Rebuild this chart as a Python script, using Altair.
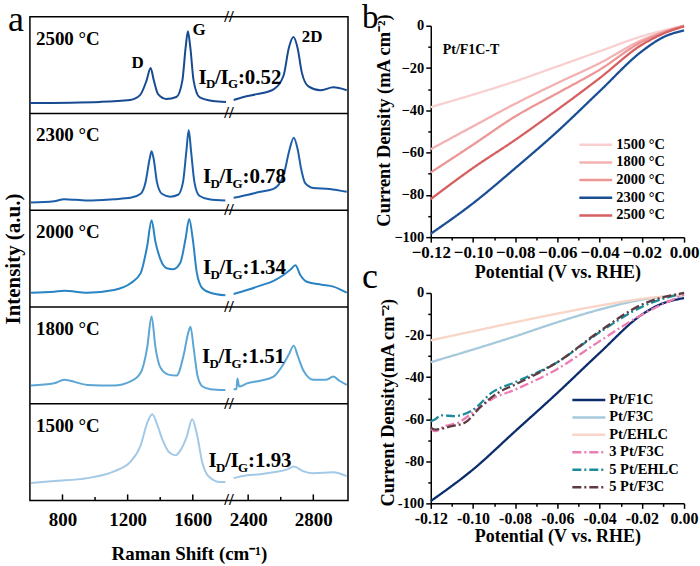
import altair as alt
import pandas as pd

FONT = "Liberation Serif"

# ---------------- Panel a: Raman spectra ----------------
TEMPS_A = ["2500 °C", "2300 °C", "2000 °C", "1800 °C", "1500 °C"]
COLORS_A = ["#174A91", "#1D5EA8", "#2A83C3", "#5CA6D6", "#A3C9E6"]
RATIOS_A = [":0.52", ":0.78", ":1.34", ":1.51", ":1.93"]
PEAKS_A = ["D", "G", "2D"]

# Raman shift (cm-1) and intensity (fraction of its strip), left and right of the axis break
X_2500_L = [600, 1032, 1215, 1276, 1316, 1341, 1361, 1387, 1438, 1499, 1536, 1556, 1570, 1585, 1605, 1641, 1723, 1804]
Y_2500_L = [0.108, 0.12, 0.14, 0.19, 0.34, 0.47, 0.34, 0.20, 0.15, 0.17, 0.34, 0.68, 0.85, 0.68, 0.34, 0.17, 0.13, 0.12]
X_2500_R = [2311, 2372, 2454, 2556, 2617, 2650, 2678, 2703, 2730, 2770, 2842, 2923, 3005]
Y_2500_R = [0.14, 0.17, 0.20, 0.25, 0.39, 0.68, 0.79, 0.68, 0.42, 0.28, 0.24, 0.27, 0.24]

X_2300_L = [606, 749, 810, 953, 1116, 1218, 1280, 1310, 1335, 1347, 1360, 1380, 1410, 1463, 1510, 1540, 1560, 1575, 1590, 1610, 1640, 1700, 1800]
Y_2300_L = [0.079, 0.093, 0.114, 0.10, 0.114, 0.128, 0.17, 0.29, 0.53, 0.61, 0.53, 0.29, 0.17, 0.14, 0.16, 0.29, 0.60, 0.83, 0.60, 0.29, 0.15, 0.114, 0.10]
X_2300_R = [2311, 2400, 2474, 2556, 2617, 2650, 2680, 2705, 2725, 2750, 2800, 2900, 3005]
Y_2300_R = [0.128, 0.16, 0.19, 0.22, 0.36, 0.60, 0.75, 0.62, 0.43, 0.28, 0.23, 0.22, 0.19]

X_2000_L = [606, 749, 810, 953, 1116, 1218, 1280, 1320, 1347, 1371, 1402, 1440, 1480, 1524, 1555, 1578, 1600, 1625, 1660, 1708, 1800]
Y_2000_L = [0.147, 0.158, 0.168, 0.147, 0.175, 0.245, 0.35, 0.63, 0.895, 0.67, 0.49, 0.40, 0.39, 0.46, 0.70, 0.91, 0.70, 0.35, 0.19, 0.147, 0.12]
X_2000_R = [2311, 2393, 2474, 2556, 2617, 2660, 2690, 2720, 2760, 2850, 2923, 3005]
Y_2000_R = [0.133, 0.175, 0.22, 0.27, 0.33, 0.386, 0.43, 0.33, 0.26, 0.23, 0.21, 0.147]

X_1800_L = [606, 749, 810, 953, 1116, 1218, 1280, 1320, 1347, 1371, 1402, 1450, 1500, 1545, 1570, 1586, 1605, 1630, 1660, 1708, 1800]
Y_1800_L = [0.187, 0.21, 0.247, 0.194, 0.187, 0.23, 0.32, 0.58, 0.90, 0.58, 0.37, 0.30, 0.29, 0.51, 0.72, 0.795, 0.58, 0.28, 0.177, 0.15, 0.14]
X_1800_R = [2311, 2328, 2334, 2345, 2393, 2474, 2556, 2617, 2650, 2680, 2705, 2740, 2801, 2880, 2923, 2960, 3005]
Y_1800_R = [0.15, 0.15, 0.26, 0.177, 0.21, 0.237, 0.28, 0.41, 0.51, 0.60, 0.49, 0.34, 0.247, 0.247, 0.28, 0.237, 0.194]

X_1500_L = [606, 749, 953, 1116, 1218, 1280, 1320, 1351, 1382, 1412, 1453, 1494, 1524, 1565, 1596, 1627, 1657, 1698, 1769, 1800]
Y_1500_L = [0.18, 0.20, 0.23, 0.30, 0.40, 0.57, 0.80, 0.89, 0.78, 0.635, 0.50, 0.466, 0.517, 0.67, 0.84, 0.67, 0.40, 0.247, 0.19, 0.19]
X_1500_R = [2311, 2393, 2474, 2556, 2640, 2680, 2740, 2801, 2923, 3005]
Y_1500_R = [0.23, 0.26, 0.27, 0.29, 0.32, 0.35, 0.30, 0.28, 0.29, 0.25]

SPECTRA = [
    (X_2500_L, Y_2500_L, X_2500_R, Y_2500_R),
    (X_2300_L, Y_2300_L, X_2300_R, Y_2300_R),
    (X_2000_L, Y_2000_L, X_2000_R, Y_2000_R),
    (X_1800_L, Y_1800_L, X_1800_R, Y_1800_R),
    (X_1500_L, Y_1500_L, X_1500_R, Y_1500_R),
]

# ---------------- Panel b: LSV, Pt/F1C-T ----------------
TEMPS_B = ["1500 °C", "1800 °C", "2000 °C", "2300 °C", "2500 °C"]
COLORS_B = ["#F8D0D0", "#F3B2B2", "#EC9696", "#1B4F93", "#D65F61"]
P_B = [-0.12, -0.10, -0.08, -0.06, -0.04, -0.02, -0.01, 0.0]
J_B_1500 = [-38.5, -32.6, -26.3, -19.2, -12.1, -5.0, -2.3, 0.0]
J_B_1800 = [-58.4, -47.6, -36.9, -27.1, -17.7, -6.8, -3.0, 0.0]
J_B_2000 = [-69.4, -56.3, -42.9, -31.9, -20.8, -7.6, -3.2, 0.0]
J_B_2300 = [-98.4, -84.0, -67.4, -50.0, -31.0, -12.1, -5.5, -2.2]
J_B_2500 = [-82.0, -67.3, -54.0, -39.7, -24.8, -9.0, -3.8, -0.3]
J_B = [J_B_1500, J_B_1800, J_B_2000, J_B_2300, J_B_2500]

# ---------------- Panel c: LSV, samples ----------------
SAMPLES_C = ["Pt/F1C", "Pt/F3C", "Pt/EHLC", "3 Pt/F3C", "5 Pt/EHLC", "5 Pt/F3C"]
COLORS_C = ["#0B2D6B", "#A6CADB", "#F8D5C6", "#EC7CB3", "#1C8B9C", "#5E3B41"]
P_C_F1C = [-0.12, -0.10, -0.08, -0.06, -0.04, -0.02, -0.0126, 0.0]
J_C_F1C = [-98.9, -83.9, -65.7, -47.5, -28.5, -10.3, -6.0, -2.4]
P_C_F3C = [-0.12, -0.10, -0.08, -0.06, -0.04, -0.02, 0.0]
J_C_F3C = [-32.9, -26.9, -20.6, -13.9, -7.9, -3.2, -1.1]
P_C_EHLC = [-0.12, -0.10, -0.08, -0.06, -0.04, -0.02, 0.0]
J_C_EHLC = [-22.5, -18.2, -13.9, -9.8, -6.0, -2.8, -0.8]
P_C_3F3C = [-0.12, -0.118, -0.1134, -0.1071, -0.0992, -0.0913, -0.08, -0.06, -0.04, -0.02, 0.0]
J_C_3F3C = [-64.5, -65.7, -63.3, -61.7, -56.2, -50.6, -45.9, -36.1, -22.9, -10.3, -0.8]
P_C_5EHLC = [-0.12, -0.118, -0.115, -0.1087, -0.0992, -0.0913, -0.08, -0.06, -0.04, -0.02, 0.0]
J_C_5EHLC = [-61.0, -60.1, -58.2, -58.5, -55.0, -47.5, -42.4, -32.9, -18.7, -6.6, 0.0]
P_C_5F3C = [-0.12, -0.118, -0.1102, -0.1039, -0.0961, -0.0882, -0.08, -0.06, -0.04, -0.02, 0.0]
J_C_5F3C = [-64.0, -64.9, -63.3, -61.7, -53.8, -47.5, -43.5, -32.9, -18.2, -5.5, 0.0]
SERIES_C = [(P_C_F1C, J_C_F1C), (P_C_F3C, J_C_F3C), (P_C_EHLC, J_C_EHLC),
            (P_C_3F3C, J_C_3F3C), (P_C_5EHLC, J_C_5EHLC), (P_C_5F3C, J_C_5F3C)]

# ---------------- layout constants ----------------
AW, AH = 319, 485
BW, BH = 254, 212
CW, CH = 254, 211
XT_SHIFT = 460          # width of the axis break in cm-1
BREAK_X = 1822
LABEL_XT, LABEL_YF = 637, 0.711
RATIO_XT = [1635, 1663, 1663, 1657, 1697]
RATIO_YF = [0.31, 0.28, 0.34, 0.42, 0.35]
PEAK_XT = [1261, 1638, 2333]
PEAK_YF = [0.467, 0.811, 0.742]
MINUS = "\u2212"


def to_axis(v):
    return v if v < 2000 else v - XT_SHIFT


n = len(TEMPS_A)
rows = []
for k, (temp, (xl, yl, xr, yr)) in enumerate(zip(TEMPS_A, SPECTRA)):
    base = n - 1 - k
    for seg, xs, ys in (("L", xl, yl), ("R", xr, yr)):
        for xv, yv in zip(xs, ys):
            rows.append({"temp": temp, "seg": temp + seg, "xa": to_axis(xv), "ya": base + yv})
df_a = pd.DataFrame(rows)
one = pd.DataFrame({"v": [0]})

x_a = alt.X("xa:Q", scale=alt.Scale(domain=[600, 2553], nice=False, zero=False),
            axis=alt.Axis(values=[800, 1200, 1600, 1940, 2340],
                          labelExpr="datum.value > 1800 ? datum.value + 460 : datum.value",
                          ticks=False, tickSize=0, domain=False, labelFontSize=19, labelPadding=10,
                          labelFlush=False, title="Raman Shift (cm⁻¹)", titleFontSize=19, titlePadding=15))
y_a = alt.Y("ya:Q", scale=alt.Scale(domain=[0, n], nice=False, zero=False),
            axis=alt.Axis(labels=False, ticks=False, tickSize=0, domain=False,
                          title="Intensity (a.u.)", titleFontSize=21, titlePadding=6))

lines_a = alt.Chart(df_a).mark_line(strokeWidth=2, interpolate="monotone").encode(
    x=x_a, y=y_a,
    color=alt.Color("temp:N", scale=alt.Scale(domain=TEMPS_A, range=COLORS_A), legend=None),
    detail="seg:N")
sep_a = alt.Chart(pd.DataFrame({"ya": list(range(1, n))})).mark_rule(color="black", strokeWidth=1.5).encode(y=y_a)
brk_a = alt.Chart(pd.DataFrame({"xa": [BREAK_X] * (n + 1), "ya": list(range(n + 1))})).mark_text(
    text="//", fontSize=17, fontWeight="bold", font=FONT, color="black").encode(x=x_a, y=y_a)
tk_major = alt.Chart(pd.DataFrame({"xa": [800, 1200, 1600, 1940, 2340]})).mark_rule(
    color="black", strokeWidth=1.5).encode(x=x_a, y=alt.value(AH), y2=alt.value(AH - 6))
tk_minor = alt.Chart(pd.DataFrame({"xa": [1000, 1400, 2140]})).mark_rule(
    color="black", strokeWidth=1.5).encode(x=x_a, y=alt.value(AH), y2=alt.value(AH - 3.5))
lab_a = alt.Chart(pd.DataFrame({"temp": TEMPS_A, "xa": [LABEL_XT] * n,
                                "ya": [n - 1 - k + LABEL_YF for k in range(n)]})).mark_text(
    align="left", baseline="alphabetic", font=FONT, fontSize=19, fontWeight="bold", color="black"
).encode(x=x_a, y=y_a, text="temp:N")

df_r = pd.DataFrame({"xa": RATIO_XT, "ya": [n - 1 - k + f for k, f in enumerate(RATIO_YF)], "val": RATIOS_A})


def piece(txt, dx, size, dy=0):
    kw = dict(align="left", baseline="alphabetic", font=FONT, fontSize=size, fontWeight="bold",
              color="black", dx=dx, dy=dy)
    if txt is None:
        return alt.Chart(df_r).mark_text(**kw).encode(x=x_a, y=y_a, text="val:N")
    return alt.Chart(df_r).mark_text(text=txt, **kw).encode(x=x_a, y=y_a)


ratio_layers = [piece("I", 0, 21), piece("D", 7.5, 13, 5), piece("/", 16.5, 21),
                piece("I", 22, 21), piece("G", 29.5, 13, 5), piece(None, 39.5, 21)]

pk_a = alt.Chart(pd.DataFrame({"t": PEAKS_A, "xa": PEAK_XT, "ya": [n - 1 + f for f in PEAK_YF]})).mark_text(
    align="center", baseline="alphabetic", font=FONT, fontSize=17, fontWeight="bold", color="black"
).encode(x=x_a, y=y_a, text="t:N")
tag_a = alt.Chart(one).mark_text(text="a", align="left", baseline="alphabetic", font=FONT,
                                 fontSize=36, color="black").encode(x=alt.value(-22), y=alt.value(13.8))
anc_a1 = alt.Chart(one).mark_rect(opacity=0).encode(x=alt.value(-29), x2=alt.value(-28),
                                                    y=alt.value(-15), y2=alt.value(-14))
anc_a2 = alt.Chart(one).mark_rect(opacity=0).encode(x=alt.value(0), x2=alt.value(1),
                                                    y=alt.value(AH + 65), y2=alt.value(AH + 66))

panel_a = alt.layer(lines_a, sep_a, brk_a, tk_major, tk_minor, lab_a, *ratio_layers, pk_a, tag_a,
                    anc_a1, anc_a2).properties(
    width=AW, height=AH, view=alt.ViewBackground(stroke="black", strokeWidth=1.5))


# ---------------- helpers for b / c ----------------
def lsv_panel(df, field, domain, colors, dashes, width, height, ytitle, title_x, title_y, tag, tag_y,
              hyphen, leg_x, leg_range, xlab_size, ylab_size, xtitle_pad, note=None, extra=None):
    xscale = alt.Scale(domain=[-0.12, 0], nice=False, zero=False)
    yscale = alt.Scale(domain=[-100, 0], nice=False, zero=False)
    if hyphen:
        xkw = dict(labelExpr="replace(format(datum.value, '.2f'), '" + MINUS + "', '-')")
        ykw = dict(labelExpr="replace(format(datum.value, 'd'), '" + MINUS + "', '-')")
    else:
        xkw = dict(format=".2f")
        ykw = dict(format="d")
    x_main = alt.X("p:Q", scale=xscale, axis=alt.Axis(
        values=[-0.12, -0.10, -0.08, -0.06, -0.04, -0.02, 0.0], tickSize=5, labelFontSize=xlab_size,
        labelPadding=2, labelFlush=False, title="Potential (V vs. RHE)", titleFontSize=18,
        titlePadding=xtitle_pad, orient="bottom", **xkw))
    y_main = alt.Y("j:Q", scale=yscale, axis=alt.Axis(
        values=[0, -20, -40, -60, -80, -100], tickSize=5, labelFontSize=ylab_size, labelPadding=2,
        labelFlush=False, title=ytitle, titleFontSize=18.5, titleX=title_x, titleY=title_y,
        orient="left", **ykw))
    color = alt.Color(field + ":N", scale=alt.Scale(domain=domain, range=colors), legend=None)
    dash = alt.StrokeDash(field + ":N", scale=alt.Scale(domain=domain, range=dashes), legend=None)
    lines = alt.Chart(df).mark_line(strokeWidth=2.3, interpolate="monotone").encode(
        x=x_main, y=y_main, color=color, strokeDash=dash, detail=field + ":N")
    minor = alt.Chart(pd.DataFrame({"p": [-0.06], "j": [-50]})).mark_point(opacity=0).encode(
        x=alt.X("p:Q", scale=xscale, axis=alt.Axis(
            values=[-0.11, -0.09, -0.07, -0.05, -0.03, -0.01], labels=False, tickSize=3,
            domain=False, title="", orient="bottom")),
        y=alt.Y("j:Q", scale=yscale, axis=alt.Axis(
            values=[-10, -30, -50, -70, -90], labels=False, tickSize=3, domain=False,
            title="", orient="left")))
    leg_df = pd.DataFrame({field: domain})
    leg_y = alt.Y(field + ":N", sort=domain,
                  scale=alt.Scale(type="point", domain=domain, range=leg_range, padding=0), axis=None)
    leg_rule = alt.Chart(leg_df).mark_rule(strokeWidth=2.5).encode(
        x=alt.value(leg_x), x2=alt.value(leg_x + 33), y=leg_y, color=color, strokeDash=dash)
    leg_text = alt.Chart(leg_df).mark_text(align="left", baseline="middle", font=FONT, fontSize=14.5,
                                           fontWeight="bold", color="black").encode(
        x=alt.value(leg_x + 37), y=leg_y, text=field + ":N")
    tag_m = alt.Chart(one).mark_text(text=tag, align="left", baseline="alphabetic", font=FONT,
                                     fontSize=36 if tag == "c" else 33, color="black").encode(
        x=alt.value(-69), y=alt.value(tag_y))
    layers = [lines, minor, leg_rule, leg_text, tag_m]
    if note is not None:
        layers.append(alt.Chart(one).mark_text(text=note, align="left", baseline="alphabetic", font=FONT,
                                               fontSize=14, fontWeight="bold", color="black").encode(
            x=alt.value(12), y=alt.value(28.3)))
    if extra is not None:
        layers.append(extra)
    return alt.layer(*layers).resolve_scale(y="independent").resolve_axis(
        x="independent", y="independent").properties(width=width, height=height)


df_b = pd.DataFrame([{"temp": t, "p": p, "j": j} for t, js in zip(TEMPS_B, J_B) for p, j in zip(P_B, js)])
panel_b = lsv_panel(df_b, "temp", TEMPS_B, COLORS_B, [[1, 0]] * 5, BW, BH,
                    "Current Density (mA cm⁻²)", -37, 94.5, "b", 2.5, False, 149, [119.3, 190.3],
                    17, 14.5, 3, note="Pt/F1C-T")

df_c = pd.DataFrame([{"sample": s, "p": p, "j": j} for s, (ps, js) in zip(SAMPLES_C, SERIES_C)
                     for p, j in zip(ps, js)])
anc_c = alt.Chart(one).mark_rect(opacity=0).encode(x=alt.value(CW + 14), x2=alt.value(CW + 15),
                                                   y=alt.value(0), y2=alt.value(1))
panel_c = lsv_panel(df_c, "sample", SAMPLES_C, COLORS_C,
                    [[1, 0], [1, 0], [1, 0], [9, 3, 2, 3], [9, 3, 2, 3], [9, 3, 2, 3]], CW, CH,
                    "Current Density(mA cm⁻²)", -33, 109.5, "c", -5, True, 142, [107.3, 194.8],
                    16, 14.5, 1, extra=anc_c)


def spacer(h):
    return alt.Chart(one).mark_point(opacity=0).encode(x=alt.value(0), y=alt.value(0)).properties(
        width=BW, height=h)


right = alt.vconcat(spacer(9), panel_b, spacer(56), panel_c, spacing=0, bounds="flush").resolve_scale(
    color="independent", strokeDash="independent")

chart = alt.hconcat(panel_a, right, spacing=83, bounds="flush").resolve_scale(
    color="independent", strokeDash="independent").properties(padding=0).configure_view(
    stroke="transparent").configure_axis(
    domainColor="black", domainWidth=1.5, tickColor="black", tickWidth=1.5, labelColor="black",
    titleColor="black", labelFont=FONT, titleFont=FONT, labelFontWeight="bold", titleFontWeight="bold",
    grid=False)

chart.save("out.html", embed_options={"renderer": "svg", "actions": False})
